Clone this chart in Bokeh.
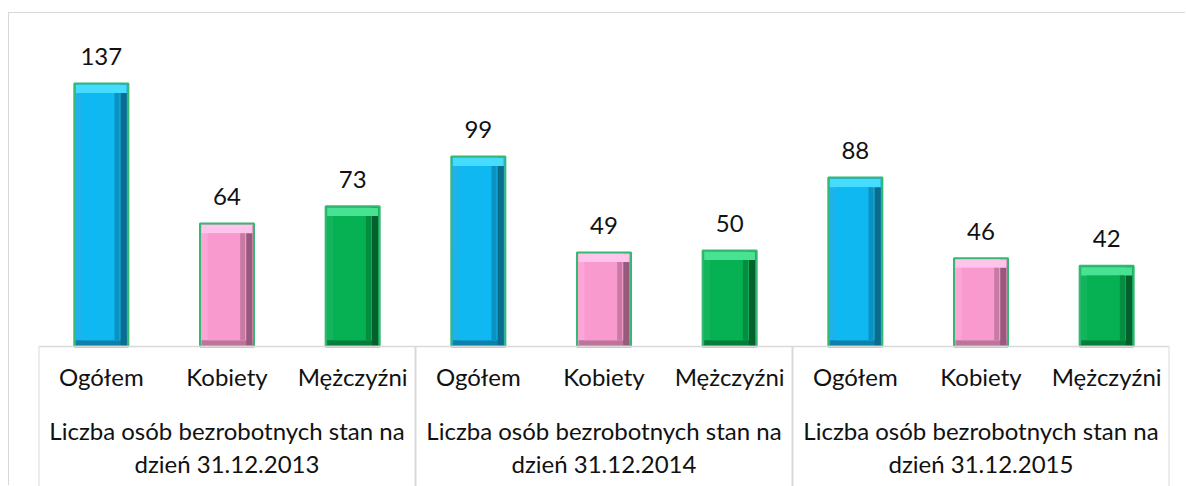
from bokeh.plotting import figure
from bokeh.models import FactorRange, Range1d, ColumnDataSource
from bokeh.transform import dodge
from bokeh.core.properties import value
from bokeh.embed import file_html
from bokeh.resources import INLINE

# ---- data ----
groups = [
    "Liczba osób bezrobotnych stan na\ndzień 31.12.2013",
    "Liczba osób bezrobotnych stan na\ndzień 31.12.2014",
    "Liczba osób bezrobotnych stan na\ndzień 31.12.2015",
]
categories = ["Ogółem", "Kobiety", "Mężczyźni"]
values_2013 = [137, 64, 73]
values_2014 = [99, 49, 50]
values_2015 = [88, 46, 42]

# ---- styling ----
FONT = "Lato"
FS = "24px"
TXT = "#111111"
cat_main = {"Ogółem": "#0fb8f1", "Kobiety": "#f89acd", "Mężczyźni": "#05b152"}
cat_shade = {"Ogółem": "#0a93c2", "Kobiety": "#c77aa3", "Mężczyźni": "#048d40"}
cat_band = {"Ogółem": "#1eb2ea", "Kobiety": "#fba6d6", "Mężczyźni": "#12b45c"}
cat_dark = {"Ogółem": "#0a6d8d", "Kobiety": "#975a7c", "Mężczyźni": "#04602d"}
cat_light = {"Ogółem": "#45dcff", "Kobiety": "#ffc4ec", "Mężczyźni": "#48e392"}
cat_bottom = {"Ogółem": "#0c82ab", "Kobiety": "#bd749b", "Mężczyźni": "#067e3a"}
OUTLINE = "#35b872"
GRID = "#d9d9d9"

all_values = [values_2013, values_2014, values_2015]
xs, vals, labels = [], [], []
main_c, shade_c, band_c, dark_c, light_c, bottom_c = [], [], [], [], [], []
for g, vs in zip(groups, all_values):
    for c, v in zip(categories, vs):
        xs.append((g, c + "\n"))
        vals.append(v)
        labels.append(str(v))
        main_c.append(cat_main[c]); shade_c.append(cat_shade[c]); band_c.append(cat_band[c])
        dark_c.append(cat_dark[c]); light_c.append(cat_light[c]); bottom_c.append(cat_bottom[c])

src = ColumnDataSource(dict(
    x=xs, v=vals, label=labels, main=main_c, shade=shade_c, band=band_c, dark=dark_c,
    light=light_c, bot=bottom_c,
    tbt=[v - 0.7 for v in vals], tbb=[v - 5.0 for v in vals], it=[v - 5.0 for v in vals],
))

x_range = FactorRange(*xs, group_padding=0, factor_padding=0, subgroup_padding=0, range_padding=0)
Y_MIN, Y_MAX = -72.92, 168.23
y_range = Range1d(Y_MIN, Y_MAX)

p = figure(x_range=x_range, y_range=y_range, width=1177, height=473,
           output_backend="svg", toolbar_location=None,
           min_border_left=29, min_border_right=17, min_border_top=10, min_border_bottom=0)
p.styles = {"margin-top": "13px", "margin-left": "9px", "box-shadow": "-1px -1px 0 0 #d9d9d9"}

p.outline_line_color = None
p.xgrid.visible = False
p.ygrid.visible = False
p.yaxis.visible = False
p.background_fill_color = "white"
p.border_fill_color = "white"

BW = 0.43
# outer bar
p.vbar(x="x", top="v", bottom=0, width=BW, fill_color="band", line_color=OUTLINE, line_width=2, source=src)
# bottom bevel
p.vbar(x="x", top=3.2, bottom=0.6, width=BW - 0.025, fill_color="bot", line_color=None, source=src)
# right bevel
p.vbar(x=dodge("x", 0.178, range=x_range), top="tbt", bottom=0.6, width=0.05, fill_color="dark", line_color=None, source=src)
# top bevel
p.vbar(x="x", top="tbt", bottom="tbb", width=BW - 0.025, fill_color="light", line_color=None, source=src)
# inner face + right shading
p.vbar(x=dodge("x", -0.005, range=x_range), top="it", bottom=3.2, width=0.30, fill_color="main", line_color=None, source=src)
p.vbar(x=dodge("x", 0.125, range=x_range), top="it", bottom=3.2, width=0.04, fill_color="shade", line_color=None, source=src)

# value labels
p.text(x="x", y="v", text="label", source=src, y_offset=-27, text_align="center",
       text_baseline="alphabetic", text_font=value(FONT), text_font_size=FS, text_color=TXT)

# group separator lines in the axis area (group boundaries in category coordinates)
sep_x = [i * len(categories) for i in range(len(groups) + 1)]
p.segment(x0=sep_x, y0=[0] * len(sep_x), x1=sep_x, y1=[Y_MIN] * len(sep_x),
          line_color=GRID, line_width=2)

ax = p.xaxis[0]
ax.fixed_location = 0
ax.axis_line_color = GRID
ax.axis_line_width = 1.5
ax.major_tick_line_color = None
ax.minor_tick_line_color = None
ax.major_tick_out = 0
ax.major_tick_in = 0
ax.separator_line_color = None
ax.major_label_standoff = 16
ax.major_label_text_font = FONT
ax.major_label_text_font_size = FS
ax.major_label_text_color = TXT
ax.major_label_text_line_height = 0.2
ax.group_text_font = FONT
ax.group_text_font_size = FS
ax.group_text_color = TXT
ax.group_text_font_style = "normal"
ax.group_text_line_height = 1.14

open("out.html", "w").write(file_html(p, INLINE))
